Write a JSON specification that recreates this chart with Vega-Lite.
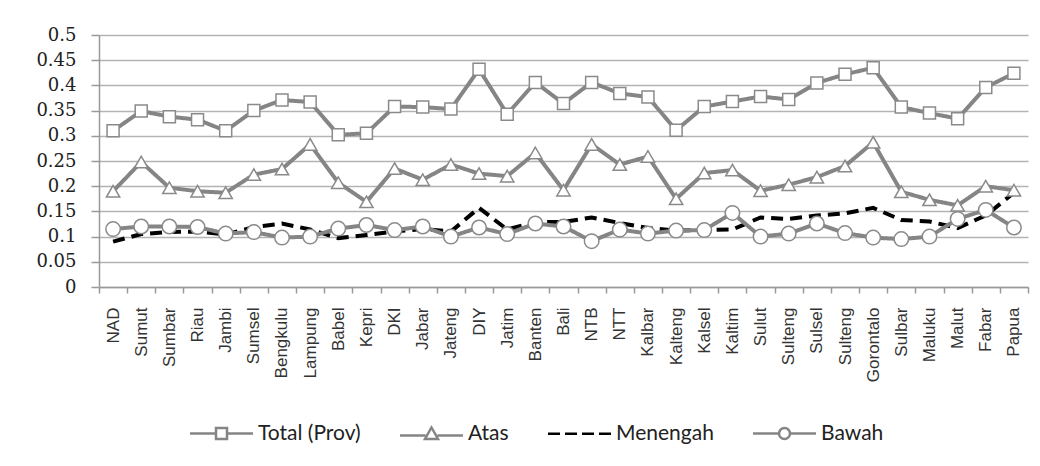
{
  "$schema": "https://vega.github.io/schema/vega-lite/v6.json",
  "width": 929,
  "height": 252,
  "autosize": "none",
  "padding": {"left": 99, "top": 35, "right": 12, "bottom": 179},
  "background": "white",
  "config": {"view": {"stroke": null}},
  "data": {"values": [
    {"prov": "NAD", "total": 0.31, "atas": 0.19, "menengah": 0.09, "bawah": 0.115},
    {"prov": "Sumut", "total": 0.349, "atas": 0.248, "menengah": 0.105, "bawah": 0.12},
    {"prov": "Sumbar", "total": 0.338, "atas": 0.197, "menengah": 0.109, "bawah": 0.12},
    {"prov": "Riau", "total": 0.332, "atas": 0.19, "menengah": 0.11, "bawah": 0.119},
    {"prov": "Jambi", "total": 0.31, "atas": 0.187, "menengah": 0.104, "bawah": 0.106},
    {"prov": "Sumsel", "total": 0.35, "atas": 0.223, "menengah": 0.119, "bawah": 0.109},
    {"prov": "Bengkulu", "total": 0.371, "atas": 0.234, "menengah": 0.126, "bawah": 0.098},
    {"prov": "Lampung", "total": 0.367, "atas": 0.283, "menengah": 0.114, "bawah": 0.1},
    {"prov": "Babel", "total": 0.302, "atas": 0.207, "menengah": 0.097, "bawah": 0.116},
    {"prov": "Kepri", "total": 0.305, "atas": 0.169, "menengah": 0.103, "bawah": 0.123},
    {"prov": "DKI", "total": 0.358, "atas": 0.235, "menengah": 0.11, "bawah": 0.113},
    {"prov": "Jabar", "total": 0.357, "atas": 0.213, "menengah": 0.115, "bawah": 0.12},
    {"prov": "Jateng", "total": 0.353, "atas": 0.243, "menengah": 0.11, "bawah": 0.1},
    {"prov": "DIY", "total": 0.432, "atas": 0.225, "menengah": 0.157, "bawah": 0.118},
    {"prov": "Jatim", "total": 0.343, "atas": 0.22, "menengah": 0.114, "bawah": 0.105},
    {"prov": "Banten", "total": 0.406, "atas": 0.266, "menengah": 0.129, "bawah": 0.126},
    {"prov": "Bali", "total": 0.364, "atas": 0.192, "menengah": 0.129, "bawah": 0.12},
    {"prov": "NTB", "total": 0.406, "atas": 0.283, "menengah": 0.138, "bawah": 0.091},
    {"prov": "NTT", "total": 0.384, "atas": 0.243, "menengah": 0.127, "bawah": 0.114},
    {"prov": "Kalbar", "total": 0.377, "atas": 0.259, "menengah": 0.117, "bawah": 0.106},
    {"prov": "Kalteng", "total": 0.311, "atas": 0.175, "menengah": 0.112, "bawah": 0.112},
    {"prov": "Kalsel", "total": 0.358, "atas": 0.226, "menengah": 0.113, "bawah": 0.113},
    {"prov": "Kaltim", "total": 0.368, "atas": 0.232, "menengah": 0.114, "bawah": 0.147},
    {"prov": "Sulut", "total": 0.378, "atas": 0.191, "menengah": 0.138, "bawah": 0.1},
    {"prov": "Sulteng", "total": 0.372, "atas": 0.203, "menengah": 0.135, "bawah": 0.106},
    {"prov": "Sulsel", "total": 0.405, "atas": 0.218, "menengah": 0.142, "bawah": 0.126},
    {"prov": "Sulteng\u200b", "total": 0.422, "atas": 0.24, "menengah": 0.146, "bawah": 0.107},
    {"prov": "Gorontalo", "total": 0.435, "atas": 0.287, "menengah": 0.157, "bawah": 0.098},
    {"prov": "Sulbar", "total": 0.357, "atas": 0.189, "menengah": 0.133, "bawah": 0.095},
    {"prov": "Maluku", "total": 0.345, "atas": 0.173, "menengah": 0.13, "bawah": 0.1},
    {"prov": "Malut", "total": 0.334, "atas": 0.162, "menengah": 0.117, "bawah": 0.135},
    {"prov": "Fabar", "total": 0.396, "atas": 0.2, "menengah": 0.142, "bawah": 0.153},
    {"prov": "Papua", "total": 0.424, "atas": 0.192, "menengah": 0.187, "bawah": 0.118}
  ]},
  "transform": [{"fold": ["total", "atas", "menengah", "bawah"], "as": ["series", "value"]}],
  "encoding": {
    "x": {
      "field": "prov", "type": "nominal", "sort": null,
      "scale": {"type": "band", "paddingInner": 0, "paddingOuter": 0},
      "axis": {
        "title": null, "tickBand": "extent", "tickSize": 6, "tickColor": "#999", "tickWidth": 1.5,
        "domainColor": "#999", "domainWidth": 1.5, "labelAngle": -90,
        "labelFont": "Liberation Sans", "labelFontSize": 17, "labelColor": "#333",
        "labelPadding": 14, "grid": false, "labelOverlap": false
      }
    },
    "y": {
      "field": "value", "type": "quantitative",
      "scale": {"domain": [0, 0.5]},
      "axis": {
        "title": null, "values": [0, 0.05, 0.1, 0.15, 0.2, 0.25, 0.3, 0.35, 0.4, 0.45, 0.5],
        "format": ".2~f", "grid": true, "gridColor": "#b3b3b3", "gridWidth": 1.5,
        "tickSize": 8, "tickColor": "#999", "tickWidth": 1.5, "domainColor": "#999", "domainWidth": 1.5,
        "labelFont": "DejaVu Serif", "labelFontSize": 18, "labelColor": "#222", "labelPadding": 15,
        "labelOverlap": false
      }
    }
  },
  "layer": [
    {
      "mark": {"type": "line", "strokeWidth": 4},
      "encoding": {
        "color": {
          "field": "series", "type": "nominal",
          "scale": {"domain": ["total", "atas", "menengah", "bawah"], "range": ["#858585", "#858585", "#000000", "#858585"]},
          "legend": null
        },
        "strokeDash": {
          "field": "series", "type": "nominal",
          "scale": {"domain": ["total", "atas", "menengah", "bawah"], "range": [[1, 0], [1, 0], [12, 7], [1, 0]]},
          "legend": null
        }
      }
    },
    {
      "transform": [{"filter": "datum.series != 'menengah'"}],
      "mark": {"type": "point", "filled": true, "fill": "white", "stroke": "#8a8a8a", "strokeWidth": 1.5, "opacity": 1},
      "encoding": {
        "shape": {
          "field": "series", "type": "nominal",
          "scale": {"domain": ["total", "atas", "bawah"], "range": ["square", "triangle-up", "circle"]},
          "legend": null
        },
        "size": {
          "field": "series", "type": "nominal",
          "scale": {"domain": ["total", "atas", "bawah"], "range": [144, 210, 115]},
          "legend": null
        }
      }
    },
    {
      "transform": [{"filter": "false"}],
      "mark": {"type": "point", "filled": false, "strokeWidth": 2.5, "size": 100, "opacity": 1},
      "encoding": {
        "shape": {
          "field": "series", "type": "nominal",
          "scale": {"domain": ["total", "atas", "menengah", "bawah"], "range": [
            "M-6.3,0H-1.1M1.1,0H6.3M-1.1,-1.1H1.1V1.1H-1.1Z",
            "M-6.3,0.4H-1.2M1.2,0.4H6.3M0,-1.2L1.3,1.1H-1.3Z",
            "M-6.3,0H-3.9M-2.9,0H-0.5M0.5,0H2.9M3.9,0H6.3",
            "M-6.3,0H-1.1M1.1,0H6.3M1.1,0A1.1,1.1 0 1,1 -1.1,0A1.1,1.1 0 1,1 1.1,0Z"
          ]},
          "legend": {
            "title": null, "orient": "none", "legendX": 85, "legendY": 388, "direction": "horizontal",
            "labelFont": "Lato", "labelFontSize": 21, "labelColor": "#222",
            "symbolSize": 100, "symbolStrokeWidth": 2.5,
            "symbolOffset": 27, "labelOffset": 26, "columnPadding": 33, "padding": 0,
            "labelExpr": "datum.label == 'total' ? 'Total (Prov)' : datum.label == 'atas' ? 'Atas' : datum.label == 'menengah' ? 'Menengah' : 'Bawah'"
          }
        },
        "color": {
          "field": "series", "type": "nominal",
          "scale": {"domain": ["total", "atas", "menengah", "bawah"], "range": ["#858585", "#858585", "#000000", "#858585"]},
          "legend": {
            "title": null, "orient": "none", "legendX": 85, "legendY": 388, "direction": "horizontal",
            "labelFont": "Lato", "labelFontSize": 21, "labelColor": "#222",
            "symbolSize": 100, "symbolStrokeWidth": 2.5,
            "symbolOffset": 27, "labelOffset": 26, "columnPadding": 33, "padding": 0,
            "labelExpr": "datum.label == 'total' ? 'Total (Prov)' : datum.label == 'atas' ? 'Atas' : datum.label == 'menengah' ? 'Menengah' : 'Bawah'"
          }
        }
      }
    }
  ],
  "resolve": {"scale": {"shape": "independent", "size": "independent", "color": "independent"}}
}
